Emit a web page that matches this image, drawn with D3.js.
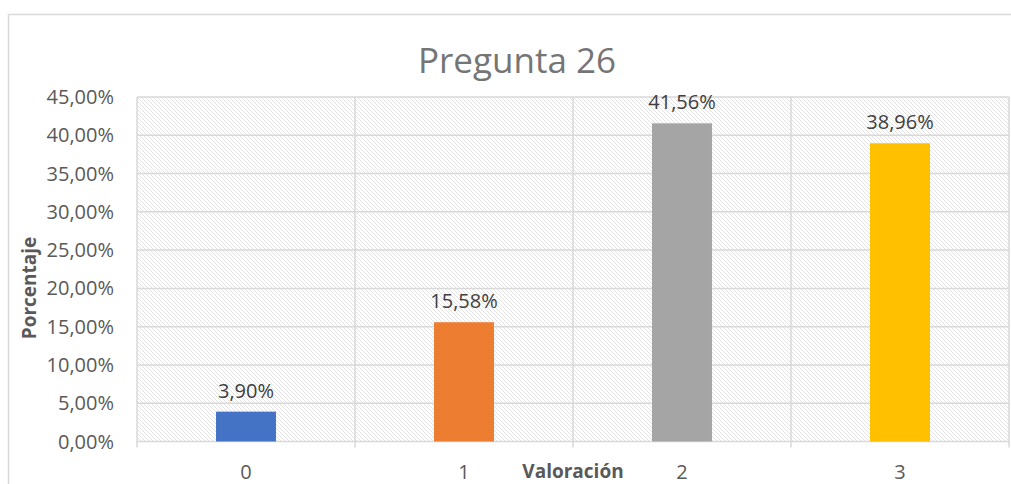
<!DOCTYPE html>
<html>
<head>
  <title>Pregunta 26</title>
  <script src="https://d3js.org/d3.v7.min.js"></script>
  <style>
    body { margin: 0; background: #fff; }
    svg { display: block; font-family: "Open Sans", sans-serif; }
    .tick-label { font-size: 20px; fill: #595959; }
    .data-label { font-size: 20px; fill: #404040; }
    .axis-title { font-size: 19px; font-weight: bold; fill: #595959; }
    .title { font-size: 35px; fill: #757575; }
  </style>
</head>
<body>
  <svg width="1011" height="484"></svg>
  <script>
    // data
    const categories = ['0', '1', '2', '3'];
    const values = [0.0390, 0.1558, 0.4156, 0.3896];
    const barColors = ['#4472C4', '#ED7D31', '#A5A5A5', '#FFC000'];
    const yTicks = [0, 0.05, 0.10, 0.15, 0.20, 0.25, 0.30, 0.35, 0.40, 0.45];

    const svg = d3.select('svg');
    const margin = { left: 137, right: 1009, top: 97, bottom: 441.5 };

    const fmt = v => (v * 100).toFixed(2).replace('.', ',') + '%';

    // hatch pattern for the plot background
    const defs = svg.append('defs');
    const pat = defs.append('pattern')
      .attr('id', 'hatch')
      .attr('patternUnits', 'userSpaceOnUse')
      .attr('width', 4)
      .attr('height', 4);
    pat.append('path')
      .attr('d', 'M-1,-1 L5,5 M-1,3 L1,5 M3,-1 L5,1')
      .attr('stroke', '#dcdcdc')
      .attr('stroke-width', 0.8);

    // outer chart border
    svg.append('rect')
      .attr('x', 8.5).attr('y', 14.5)
      .attr('width', 1100).attr('height', 600)
      .attr('fill', 'none')
      .attr('stroke', '#d9d9d9')
      .attr('stroke-width', 1.5);

    const x = d3.scaleBand()
      .domain(categories)
      .range([margin.left, margin.right])
      .paddingInner(0.725)
      .paddingOuter(0.3625);

    const xCell = d3.scaleBand()
      .domain(categories)
      .range([margin.left, margin.right]);

    const y = d3.scaleLinear()
      .domain([0, 0.45])
      .range([margin.bottom, margin.top]);

    // plot background
    svg.append('rect')
      .attr('x', margin.left).attr('y', margin.top)
      .attr('width', margin.right - margin.left)
      .attr('height', margin.bottom - margin.top)
      .attr('fill', 'url(#hatch)');

    // horizontal gridlines
    svg.append('g').selectAll('line')
      .data(yTicks)
      .enter().append('line')
      .attr('x1', margin.left).attr('x2', margin.right)
      .attr('y1', d => y(d)).attr('y2', d => y(d))
      .attr('stroke', '#d9d9d9')
      .attr('stroke-width', 1.5);

    // vertical gridlines at category boundaries (with ticks below axis)
    const bounds = categories.map(c => xCell(c)).concat([margin.right]);
    svg.append('g').selectAll('line')
      .data(bounds)
      .enter().append('line')
      .attr('x1', d => d).attr('x2', d => d)
      .attr('y1', margin.top).attr('y2', margin.bottom + 6)
      .attr('stroke', '#d9d9d9')
      .attr('stroke-width', 1.5);

    // y tick labels
    svg.append('g').selectAll('text')
      .data(yTicks)
      .enter().append('text')
      .attr('class', 'tick-label')
      .attr('x', 114)
      .attr('y', d => y(d) + 7)
      .attr('text-anchor', 'end')
      .text(fmt);

    // bars
    svg.append('g').selectAll('rect')
      .data(values)
      .enter().append('rect')
      .attr('x', (d, i) => x(categories[i]))
      .attr('width', x.bandwidth())
      .attr('y', d => y(d))
      .attr('height', d => y(0) - y(d))
      .attr('fill', (d, i) => barColors[i]);

    // data labels
    svg.append('g').selectAll('text')
      .data(values)
      .enter().append('text')
      .attr('class', 'data-label')
      .attr('x', (d, i) => x(categories[i]) + x.bandwidth() / 2)
      .attr('y', d => y(d) - 14)
      .attr('text-anchor', 'middle')
      .text(fmt);

    // x tick labels
    svg.append('g').selectAll('text')
      .data(categories)
      .enter().append('text')
      .attr('class', 'tick-label')
      .attr('x', d => xCell(d) + xCell.bandwidth() / 2)
      .attr('y', 479)
      .attr('text-anchor', 'middle')
      .text(d => d);

    // titles
    svg.append('text')
      .attr('class', 'title')
      .attr('x', 517).attr('y', 73)
      .attr('text-anchor', 'middle')
      .text('Pregunta 26');

    svg.append('text')
      .attr('class', 'axis-title')
      .attr('x', 573).attr('y', 478)
      .attr('text-anchor', 'middle')
      .text('Valoración');

    svg.append('text')
      .attr('class', 'axis-title')
      .attr('transform', 'translate(36,288) rotate(-90)')
      .attr('text-anchor', 'middle')
      .text('Porcentaje');
  </script>
</body>
</html>
